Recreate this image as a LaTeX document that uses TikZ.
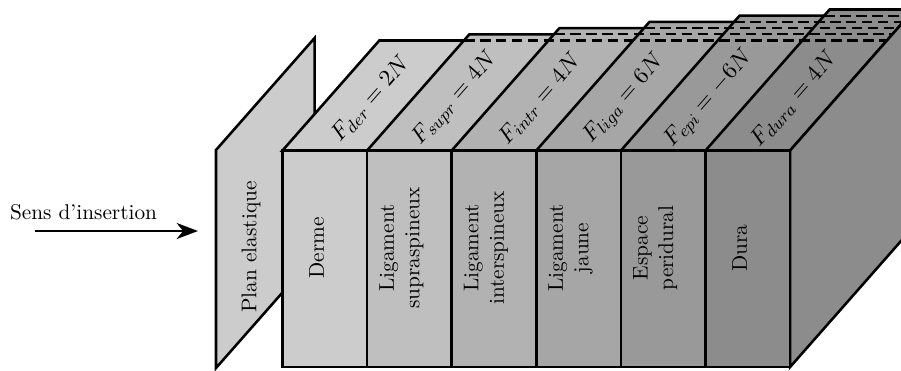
\documentclass[tikz,border=0pt]{standalone}
\usetikzlibrary{arrows.meta}
\begin{document}
\begin{tikzpicture}[x=0.01651cm,y=-0.01651cm,
  edge/.style={line width=1.2pt},
  hidden/.style={line width=1pt, dash pattern=on 5pt off 2.5pt},
  facelabel/.style={rotate=90, align=center, inner sep=0pt},
  toplabel/.style={rotate=48.7, inner sep=0pt, font=\fontsize{11}{13}\selectfont}]
\useasboundingbox (0,0) rectangle (901,370);
\clip (0,0) rectangle (901,370);
% elastic plane
\filldraw[edge, fill=black!20] (216,150) -- (314.6,38) -- (314.6,256) -- (216,368) -- cycle;
\node[facelabel] (plan) at (251,247) {Plan elastique};
% arrow
\node (sens) at (83.5,212) {Sens d'insertion};
\coordinate (arrowstart) at (35,231);
\coordinate (arrowend) at (198,231);
\draw[line width=1.2pt,-{Stealth[length=10pt,width=7.5pt,inset=3pt]}] (arrowstart) -- (arrowend);
% top faces
\foreach \i/\sh in {0/20,1/25,2/30,3/35,4/40,5/45}{
  \pgfmathsetmacro\xa{282.5+84.6*\i}
  \pgfmathsetmacro\dep{110+6.2*\i}
  \pgfmathsetmacro\sx{0.88*\dep}
  \filldraw[edge, fill=black!\sh] (\xa,150.5) -- (790.1,150.5) -- (790.1+\sx,150.5-\dep) -- (\xa+\sx,150.5-\dep) -- cycle;
}
% hidden back edges
\foreach \i in {0,...,4}{
  \pgfmathsetmacro\xb{282.5+84.6*(\i+1)}
  \pgfmathsetmacro\dep{110+6.2*\i}
  \pgfmathsetmacro\sx{0.88*\dep}
  \draw[hidden] (\xb+\sx,150.5-\dep) -- (790.1+\sx,150.5-\dep);
}
% right face
\filldraw[edge, fill=black!45] (790.1,150.5) -- (790.1,367) -- (790.1+124.1,367-141) -- (790.1+124.1,150.5-141) -- cycle;
% front faces
\foreach \i/\sh in {0/20,1/25,2/30,3/35,4/40,5/45}{
  \pgfmathsetmacro\xa{282.5+84.6*\i}
  \filldraw[edge, fill=black!\sh] (\xa,150.5) rectangle (\xa+84.6,367);
}
% labels
\foreach \i/\txt in {0/{Derme},1/{Ligament\\supraspineux},2/{Ligament\\interspineux},3/{Ligament\\jaune},4/{Espace\\peridural},5/{Dura}}{
  \pgfmathsetmacro\xc{282.5+84.6*\i+42.3-8}
  \node[facelabel] (front\i) at (\xc,248) {\txt};
}
\foreach \i/\txt in {0/{$F_{der} = 2N$},1/{$F_{supr} = 4N$},2/{$F_{intr} = 4N$},3/{$F_{liga} = 6N$},4/{$F_{epi} = -6N$},5/{$F_{dura} = 4N$}}{
  \pgfmathsetmacro\xc{282.5+84.6*\i+42.3+46}
  \node[toplabel] (top\i) at (\xc,99) {\txt};
}
\end{tikzpicture}
\end{document}
